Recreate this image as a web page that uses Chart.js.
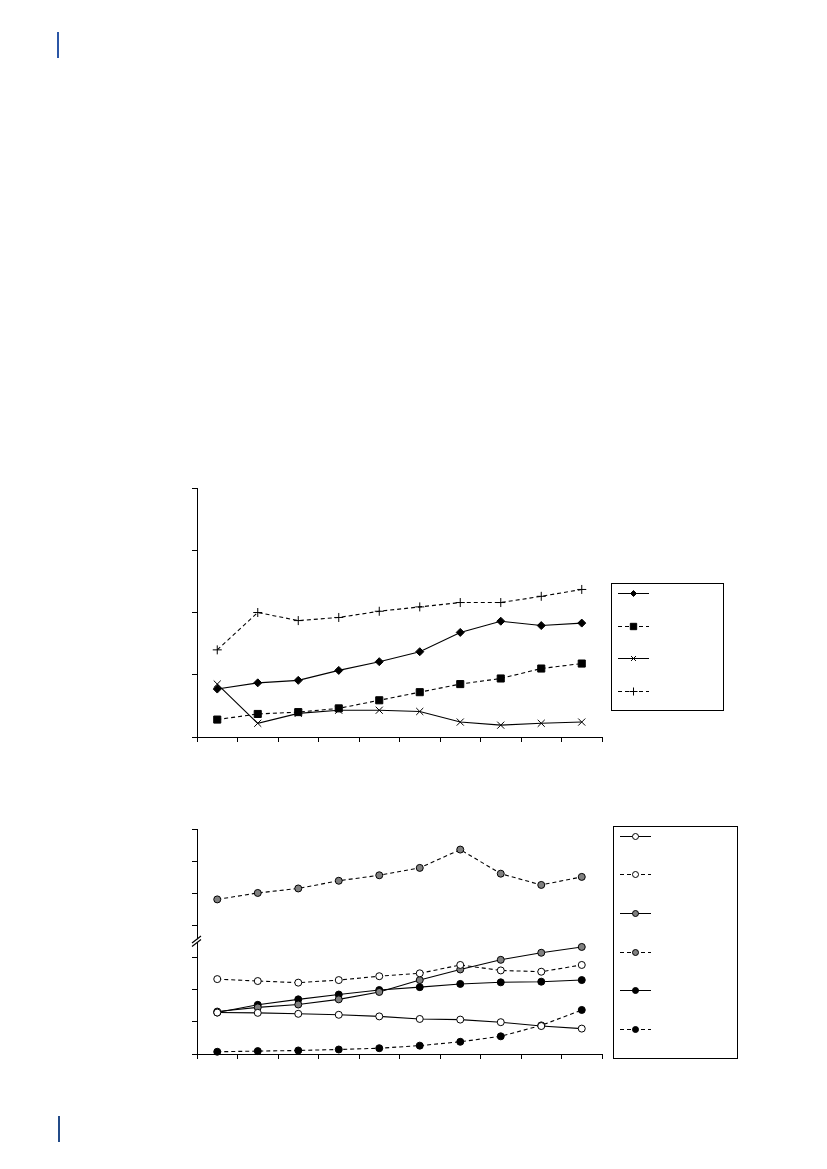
<!DOCTYPE html>
<html>
<head>
<meta charset="utf-8">
<script src="https://cdn.jsdelivr.net/npm/chart.js@4.4.1/dist/chart.umd.min.js"></script>
<style>
  html, body { margin: 0; padding: 0; background: #fff; }
  body { width: 827px; height: 1169px; position: relative; overflow: hidden; font-family: "Liberation Sans", Arial, sans-serif; }
  .rule { position: absolute; width: 2px; }
  .box { position: absolute; }
</style>
</head>
<body>
<div class="rule" style="left:57px; top:32px; height:26px; background:#2b56a6;"></div>
<div class="rule" style="left:58px; top:1116px; height:26px; background:#234b88;"></div>

<div class="box" style="left:187px; top:482px; width:550px; height:265px;"><canvas id="chartTop"></canvas></div>
<div class="box" style="left:187px; top:815px; width:560px; height:255px;"><canvas id="chartBottom"></canvas></div>

<script>
  // categories (no labels are printed in the reference)
  var periods = ['1', '2', '3', '4', '5', '6', '7', '8', '9', '10'];

  // top chart, axis 0..4
  var diamondSeries = [0.77, 0.87, 0.91, 1.07, 1.21, 1.37, 1.68, 1.86, 1.79, 1.83];
  var squareSeries  = [0.28, 0.37, 0.40, 0.46, 0.59, 0.72, 0.85, 0.94, 1.10, 1.18];
  var crossSeries   = [0.85, 0.22, 0.38, 0.43, 0.43, 0.41, 0.24, 0.19, 0.22, 0.24];
  var plusSeries    = [1.40, 2.00, 1.87, 1.92, 2.02, 2.09, 2.16, 2.16, 2.26, 2.37];
  var topTicks = [0, 1, 2, 3, 4];

  // bottom chart, axis 0..7 with a break drawn at 3.5
  var openSolid   = [1.29, 1.28, 1.25, 1.22, 1.17, 1.09, 1.07, 0.99, 0.87, 0.79];
  var openDashed  = [2.33, 2.27, 2.22, 2.30, 2.42, 2.51, 2.77, 2.60, 2.56, 2.77];
  var graySolid   = [1.32, 1.45, 1.54, 1.70, 1.93, 2.30, 2.63, 2.93, 3.15, 3.33];
  var grayDashed  = [4.81, 5.01, 5.15, 5.39, 5.56, 5.79, 6.36, 5.61, 5.26, 5.51];
  var blackSolid  = [1.29, 1.53, 1.70, 1.85, 1.99, 2.08, 2.18, 2.23, 2.25, 2.30];
  var blackDashed = [0.07, 0.09, 0.11, 0.14, 0.18, 0.26, 0.38, 0.55, 0.89, 1.37];
  var bottomTicks = [0, 1, 2, 3, 4, 5, 6, 7];
  var breakAt = 3.5;

  var DASH = [4, 3];

  function series(label, data, style, radius, fill, dashed, legendRadius) {
    return {
      label: label,
      data: data,
      borderColor: '#000',
      borderWidth: 1.1,
      borderDash: dashed ? DASH : [],
      pointStyle: style,
      pointRadius: radius,
      pointBackgroundColor: fill,
      pointBorderColor: '#000',
      pointBorderWidth: 1,
      legendRadius: legendRadius,
      tension: 0,
      clip: false
    };
  }

  // draws the framed legend with line + marker samples, no text
  var legendBox = {
    id: 'legendBox',
    afterDraw: function (chart, args, opts) {
      var ctx = chart.ctx;
      ctx.save();
      ctx.strokeStyle = '#000';
      ctx.lineWidth = 1;
      ctx.setLineDash([]);
      ctx.strokeRect(opts.x + 0.5, opts.y + 0.5, opts.w, opts.h);
      chart.data.datasets.forEach(function (ds, i) {
        var y = Math.round(opts.firstY + i * opts.step) + 0.5;
        ctx.beginPath();
        ctx.setLineDash(ds.borderDash);
        ctx.strokeStyle = ds.borderColor;
        ctx.moveTo(opts.sampleX, y);
        ctx.lineTo(opts.sampleX + opts.sampleW, y);
        ctx.stroke();
        ctx.setLineDash([]);
        ctx.fillStyle = ds.pointBackgroundColor;
        ctx.strokeStyle = ds.pointBorderColor;
        ctx.lineWidth = 1;
        Chart.helpers.drawPoint(ctx, {
          pointStyle: ds.pointStyle,
          radius: ds.legendRadius,
          rotation: 0,
          borderWidth: 1
        }, opts.sampleX + opts.sampleW / 2, y);
      });
      ctx.restore();
    }
  };

  // the "//" axis break on the bottom chart
  var axisBreak = {
    id: 'axisBreak',
    afterDraw: function (chart, args, opts) {
      if (opts.value === undefined) return;
      var ctx = chart.ctx;
      var x = chart.chartArea.left;
      var y = chart.scales.y.getPixelForValue(opts.value);
      ctx.save();
      ctx.fillStyle = '#fff';
      ctx.beginPath();
      ctx.moveTo(x - 5, y + 2);
      ctx.lineTo(x + 4, y - 5);
      ctx.lineTo(x + 4, y - 2);
      ctx.lineTo(x - 5, y + 5);
      ctx.closePath();
      ctx.fill();
      ctx.strokeStyle = '#000';
      ctx.lineWidth = 1.2;
      ctx.beginPath();
      ctx.moveTo(x - 5, y + 1.5);
      ctx.lineTo(x + 4, y - 5.5);
      ctx.moveTo(x - 5, y + 5);
      ctx.lineTo(x + 4, y - 2);
      ctx.stroke();
      ctx.restore();
    }
  };

  function axes(ticks) {
    return {
      x: {
        type: 'category',
        offset: true,
        afterFit: function (s) { s.height = 10; },
        grid: { offset: true, drawOnChartArea: false, drawTicks: true, tickLength: 5, color: '#000', lineWidth: 1 },
        border: { display: true, color: '#000', width: 1 },
        ticks: { display: false }
      },
      y: {
        min: ticks[0],
        max: ticks[ticks.length - 1],
        afterFit: function (s) { s.width = 10; },
        afterBuildTicks: function (s) { s.ticks = ticks.map(function (v) { return { value: v }; }); },
        grid: { drawOnChartArea: false, drawTicks: true, tickLength: 5, color: '#000', lineWidth: 1 },
        border: { display: true, color: '#000', width: 1 },
        ticks: { display: false }
      }
    };
  }

  function baseOptions(ticks, padding, legendOpts, breakValue) {
    return {
      responsive: true,
      maintainAspectRatio: false,
      animation: false,
      events: [],
      layout: { padding: padding },
      plugins: {
        legend: { display: false },
        tooltip: { enabled: false },
        legendBox: legendOpts,
        axisBreak: { value: breakValue }
      },
      scales: axes(ticks)
    };
  }

  new Chart(document.getElementById('chartTop'), {
    type: 'line',
    data: {
      labels: periods,
      datasets: [
        series('Series 1', diamondSeries, 'rectRot', 4, '#000', false, 3),
        series('Series 2', squareSeries, 'rect', 5, '#000', true, 4.5),
        series('Series 3', crossSeries, 'crossRot', 5, '#000', false, 3.5),
        series('Series 4', plusSeries, 'cross', 4.5, '#000', true, 4)
      ]
    },
    options: baseOptions(topTicks, { left: 0, top: 5, right: 135, bottom: 0 },
      { x: 424, y: 101, w: 112, h: 127, firstY: 111, step: 32.5, sampleX: 431, sampleW: 31 }),
    plugins: [legendBox, axisBreak]
  });

  new Chart(document.getElementById('chartBottom'), {
    type: 'line',
    data: {
      labels: periods,
      datasets: [
        series('Series A', openSolid, 'circle', 3.5, '#fff', false, 3),
        series('Series B', openDashed, 'circle', 3.5, '#fff', true, 3),
        series('Series C', graySolid, 'circle', 3.5, '#808080', false, 3),
        series('Series D', grayDashed, 'circle', 3.5, '#808080', true, 3),
        series('Series E', blackSolid, 'circle', 3.5, '#000', false, 3),
        series('Series F', blackDashed, 'circle', 3.5, '#000', true, 3)
      ]
    },
    options: baseOptions(bottomTicks, { left: 0, top: 14, right: 145, bottom: 6 },
      { x: 426, y: 11, w: 124, h: 232, firstY: 20.5, step: 38.7, sampleX: 433, sampleW: 31 }, breakAt),
    plugins: [legendBox, axisBreak]
  });
</script>
</body>
</html>
